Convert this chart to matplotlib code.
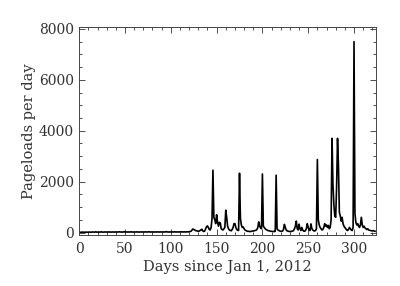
import numpy as np
import matplotlib
matplotlib.use("Agg")
import matplotlib.pyplot as plt
from matplotlib.ticker import MultipleLocator

# daily pageloads, day 0 = Jan 1, 2012
pageloads = [
    # 0-119: almost nothing
    10, 12, 8, 15, 20, 12, 10, 18, 14, 12,
    15, 20, 14, 12, 18, 25, 16, 14, 30, 18,
    15, 22, 18, 16, 30, 20, 18, 15, 25, 20,
    18, 22, 20, 26, 18, 16, 24, 20, 18, 22,
    20, 25, 18, 22, 30, 20, 24, 18, 20, 35,
    22, 20, 26, 18, 24, 20, 22, 28, 20, 18,
    24, 20, 22, 26, 20, 18, 22, 25, 20, 24,
    22, 20, 26, 24, 20, 22, 30, 24, 20, 22,
    25, 20, 24, 22, 20, 26, 24, 22, 20, 25,
    22, 24, 20, 26, 22, 40, 24, 22, 20, 25,
    22, 26, 24, 20, 35, 22, 24, 20, 26, 24,
    22, 30, 24, 26, 22, 28, 20, 24, 30, 26,
    # 120-
    30, 40, 50, 90, 140, 120, 100, 80, 70, 60,
    50, 60, 80, 110, 130, 60, 40, 60, 150, 230,
    260, 200, 120, 100, 200, 550, 2450, 600, 500, 350,
    700, 420, 250, 400, 380, 150, 120, 100, 150, 200,
    880, 600, 250, 150, 100, 80, 70, 120, 200, 350,
    350, 200, 120, 90, 80, 2330, 550, 300, 200, 220,
    150, 100, 80, 60, 50, 50, 40, 40, 50, 60,
    60, 70, 80, 90, 120, 200, 420, 250, 180, 150,
    2300, 250, 200, 150, 120, 100, 80, 70, 60, 50,
    50, 45, 40, 40, 50, 2250, 150, 100, 80, 60,
    50, 50, 60, 120, 320, 200, 100, 70, 50, 50,
    40, 40, 50, 60, 80, 150, 250, 450, 150, 100,
    330, 150, 80, 200, 100, 60, 50, 80, 150, 350,
    200, 100, 80, 340, 150, 100, 70, 60, 80, 150,
    2870, 500, 300, 200, 150, 100, 120, 200, 350, 250,
    300, 200, 280, 150, 200, 500, 3700, 1900, 1100, 650,
    600, 1800, 3700, 2650, 800, 650, 450, 600, 350, 250,
    200, 150, 100, 80, 120, 200, 150, 100, 80, 200,
    7500, 750, 400, 300, 350, 250, 200, 300, 600, 300,
    200, 250, 180, 150, 120, 150, 100, 90, 80, 70,
    60, 80, 60, 50,
]
days = np.arange(len(pageloads))

plt.rcParams["font.family"] = "DejaVu Serif"

fig = plt.figure(figsize=(4.0, 2.86), dpi=100)
ax = fig.add_axes([0.198, 0.178, 0.742, 0.728])

ax.plot(days, pageloads, color="black", linewidth=1.2)

ax.set_xlim(0, 324)
ax.set_ylim(-100, 8080)
ax.xaxis.set_major_locator(MultipleLocator(50))
ax.xaxis.set_minor_locator(MultipleLocator(10))
ax.yaxis.set_major_locator(MultipleLocator(2000))
ax.yaxis.set_minor_locator(MultipleLocator(500))

ax.tick_params(which="both", direction="in", top=True, right=True,
               labelsize=10, colors="#333333", width=0.6)
ax.tick_params(which="major", length=4)
ax.tick_params(which="minor", length=2)
ax.tick_params(axis="x", pad=5)
ax.tick_params(axis="y", pad=4)
for s in ax.spines.values():
    s.set_linewidth(0.7)
    s.set_color("#444444")

ax.set_xlabel("Days since Jan 1, 2012", fontsize=10.5, color="#333333",
              labelpad=3)
ax.set_ylabel("Pageloads per day", fontsize=10.5, color="#333333",
              labelpad=2)

fig.savefig("out.png", dpi=100)
